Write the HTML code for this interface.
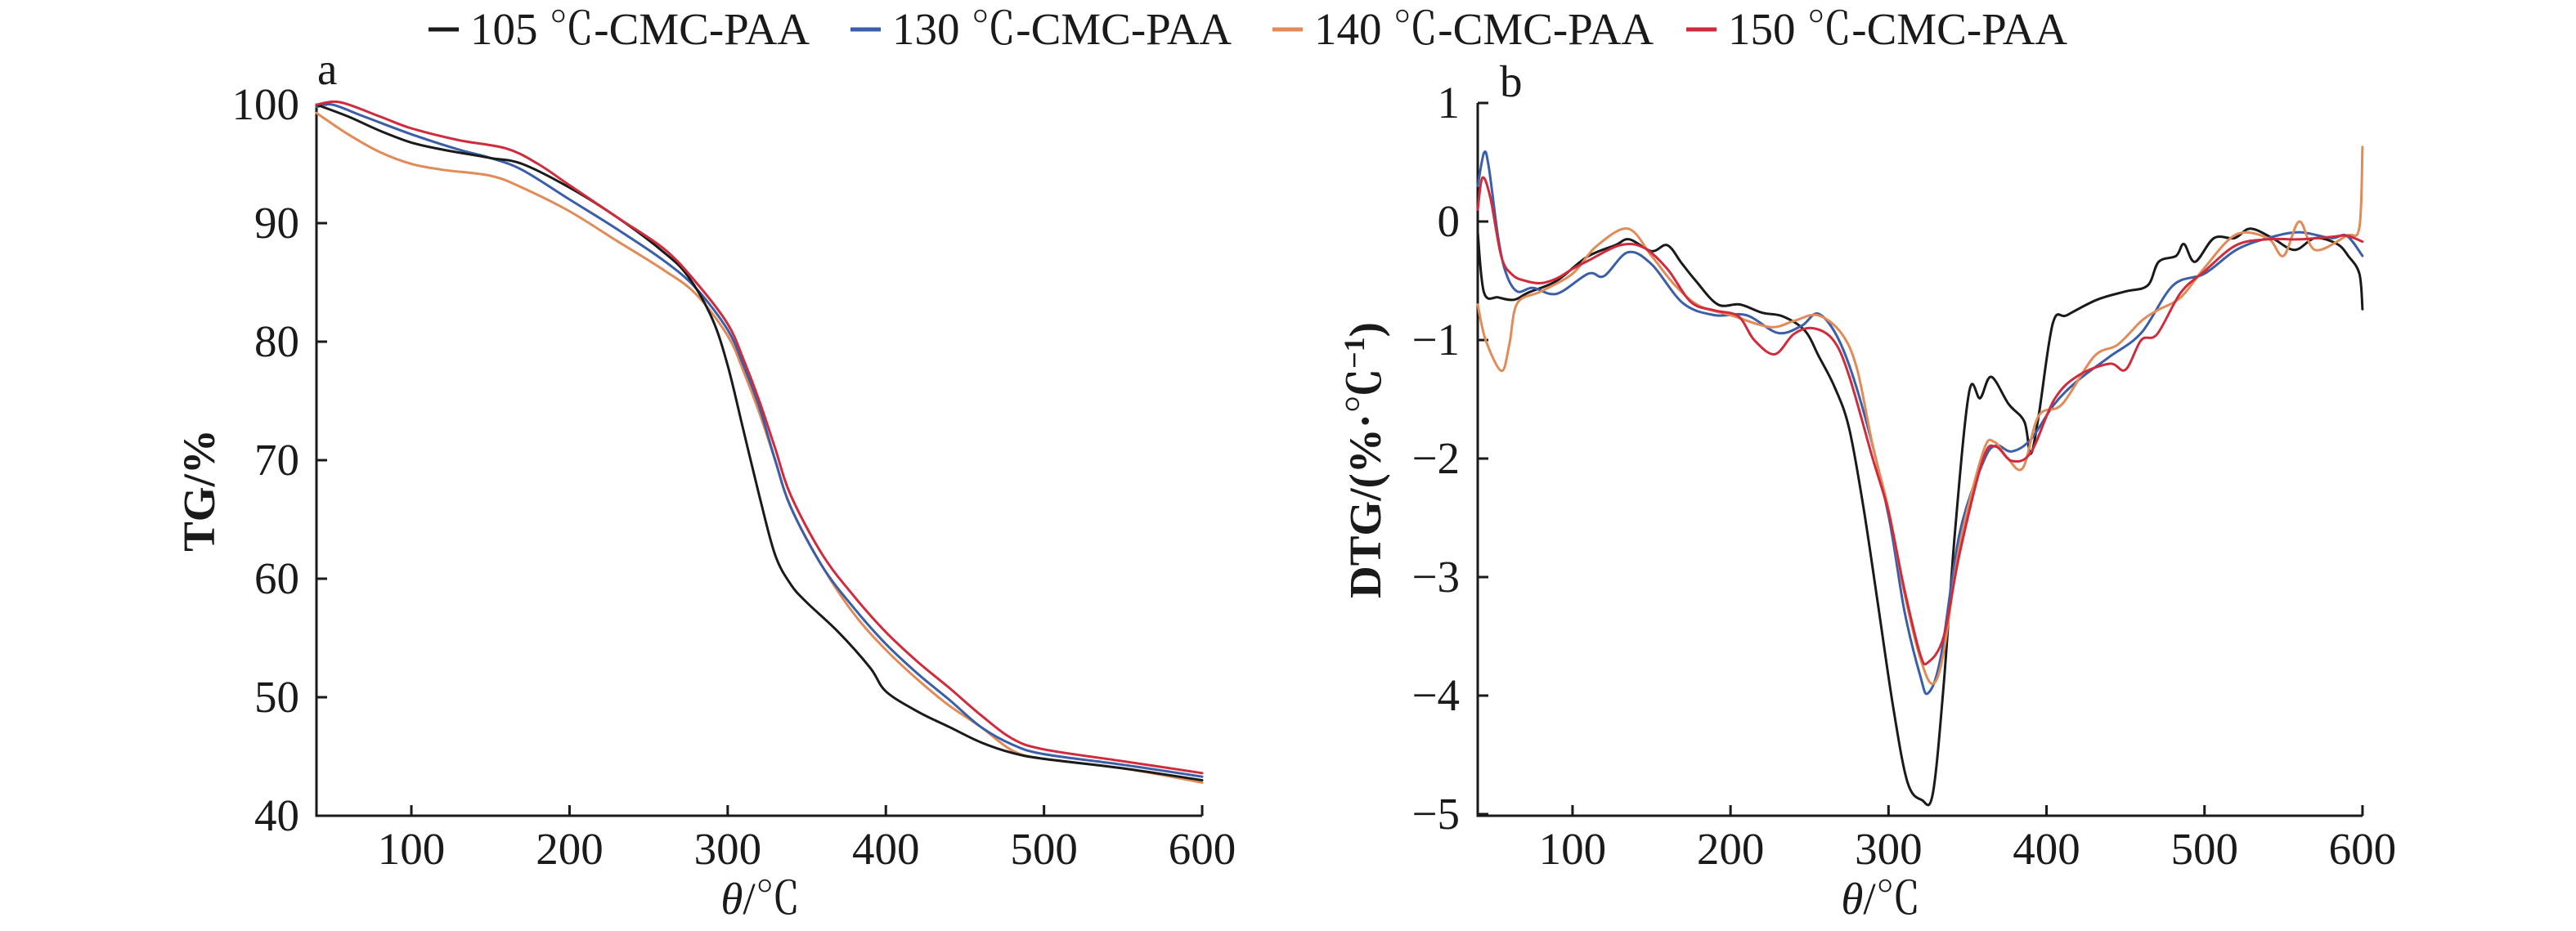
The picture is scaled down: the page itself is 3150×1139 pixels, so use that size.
<!DOCTYPE html>
<html><head><meta charset="utf-8"><style>
html,body{margin:0;padding:0;background:#fff}
svg{display:block}
text{font-family:"Liberation Serif","Noto Serif CJK SC",serif;fill:#1a1a1a}
</style></head><body>
<svg id="s" width="3150" height="1139" viewBox="0 0 3150 1139" xmlns="http://www.w3.org/2000/svg">
<g font-size="55">
<line x1="524" y1="36" x2="561" y2="36" stroke="#1a1a1a" stroke-width="5"/>
<text x="575" y="54">105 ℃-CMC-PAA</text>
<line x1="1040" y1="36" x2="1077" y2="36" stroke="#3a5ea8" stroke-width="5"/>
<text x="1091" y="54">130 ℃-CMC-PAA</text>
<line x1="1556" y1="36" x2="1593" y2="36" stroke="#e08b58" stroke-width="5"/>
<text x="1607" y="54">140 ℃-CMC-PAA</text>
<line x1="2062" y1="36" x2="2099" y2="36" stroke="#d02b3c" stroke-width="5"/>
<text x="2113" y="54">150 ℃-CMC-PAA</text>
</g>
<g id="axes" stroke="#1a1a1a" stroke-width="3" fill="none"></g>
<g id="labels" font-size="55"></g>
<g id="curves" fill="none" stroke-width="3" stroke-linejoin="round" stroke-linecap="round"></g>
<text x="388" y="103" font-size="55">a</text>
<text x="1834" y="118" font-size="55">b</text>
<text transform="translate(262,600) rotate(-90)" font-size="55" text-anchor="middle" font-weight="bold">TG/%</text>
<text transform="translate(1688,563) rotate(-90)" font-size="55" text-anchor="middle" font-weight="bold">DTG/(%·℃<tspan font-size="36" dy="-20">−1</tspan><tspan dy="20">)</tspan></text>
<text x="930" y="1118" font-size="55" text-anchor="middle"><tspan font-style="italic">θ</tspan>/℃</text>
<text x="2300" y="1118" font-size="55" text-anchor="middle"><tspan font-style="italic">θ</tspan>/℃</text>
</svg>
<script>
const NS="http://www.w3.org/2000/svg";
function el(p,t,a,txt){const e=document.createElementNS(NS,t);for(const k in a)e.setAttribute(k,a[k]);if(txt!==undefined)e.textContent=txt;document.getElementById(p).appendChild(e);}
// panel a
const LX=t=>387+(t-40)*1.934, LY=v=>128+(100-v)*14.5;
const RX=t=>1807+(t-40)*1.932, RY=v=>271-v*145;
el("axes","path",{d:`M387,128 L387,998 L1470,998`});
el("axes","path",{d:`M1807,126 L1807,998 L2889,998`});
for(let v=40;v<=100;v+=10){const y=LY(v);el("axes","line",{x1:387,y1:y,x2:400,y2:y});el("labels","text",{x:366,y:y+18,"text-anchor":"end"},String(v));}
for(let t=100;t<=600;t+=100){const x=LX(t);el("axes","line",{x1:x,y1:998,x2:x,y2:985});el("labels","text",{x:x,y:1057,"text-anchor":"middle"},String(t));}
for(let v=-5;v<=1;v++){const y=RY(v);el("axes","line",{x1:1807,y1:y,x2:1820,y2:y});el("labels","text",{x:1785,y:y+18,"text-anchor":"end"},(v<0?"−":"")+Math.abs(v));}
for(let t=100;t<=600;t+=100){const x=RX(t);el("axes","line",{x1:x,y1:998,x2:x,y2:985});el("labels","text",{x:x,y:1057,"text-anchor":"middle"},String(t));}
const C={k:"#1a1a1a",b:"#3a5ea8",o:"#e08b58",r:"#d02b3c"};
const TG={
k:[[40,100],[60,99],[80,97.8],[100,96.8],[120,96.2],[150,95.5],[170,95],[200,93],[230,90.5],[260,87.5],[275,85.5],[290,82],[300,78],[310,72.5],[320,67],[330,62],[340,59.5],[350,58],[370,55.5],[390,52.5],[400,50.5],[420,48.8],[440,47.5],[460,46.2],[480,45.3],[500,44.8],[550,44],[600,43]],
b:[[40,99.8],[50,100],[70,99],[100,97.5],[130,96.2],[150,95.5],[170,94.5],[200,92],[230,89.5],[260,86.8],[280,84.5],[300,81],[310,78],[320,74.5],[330,70],[340,66],[360,61],[380,57.5],[400,54.5],[420,52],[440,49.8],[460,47.5],[480,46],[500,45.2],[550,44.3],[600,43.3]],
o:[[40,99.3],[60,97.5],[80,96],[100,95],[120,94.5],[150,94],[170,93],[200,91],[230,88.5],[260,86],[280,84],[300,80.5],[310,77.5],[320,74],[330,70],[340,66],[360,61],[380,57],[400,54],[420,51.5],[440,49.3],[460,47.5],[480,45.5],[500,44.8],[550,44],[600,42.8]],
r:[[40,100],[55,100.2],[80,99],[100,98],[130,97],[160,96.3],[180,95],[200,93.2],[230,90.5],[260,87.8],[280,85],[300,81.5],[310,78.5],[320,75],[330,71],[340,67],[360,62],[380,58.5],[400,55.5],[420,53],[440,50.8],[460,48.5],[480,46.5],[500,45.6],[550,44.6],[600,43.6]]};
const DTG={
k:[[40,-0.09],[44,-0.6],[53,-0.64],[63,-0.66],[72,-0.6],[90,-0.5],[109,-0.3],[127,-0.2],[136,-0.15],[150,-0.25],[160,-0.2],[169,-0.35],[178,-0.5],[192,-0.7],[206,-0.7],[220,-0.77],[233,-0.8],[247,-0.92],[256,-1.14],[266,-1.4],[275,-1.74],[284,-2.4],[293,-3.2],[303,-4.1],[312,-4.73],[321,-4.88],[328,-4.83],[335,-3.9],[342,-2.63],[351,-1.44],[358,-1.49],[365,-1.31],[376,-1.54],[386,-1.69],[390,-1.96],[395,-1.64],[404,-0.86],[413,-0.79],[432,-0.66],[450,-0.59],[464,-0.54],[471,-0.34],[482,-0.29],[487,-0.19],[494,-0.34],[506,-0.14],[519,-0.14],[529,-0.06],[543,-0.14],[557,-0.24],[570,-0.14],[584,-0.19],[591,-0.29],[598,-0.44],[600,-0.74]],
b:[[40,0.3],[44,0.58],[47,0.46],[53,-0.14],[58,-0.44],[65,-0.59],[75,-0.56],[90,-0.61],[110,-0.44],[120,-0.46],[135,-0.26],[150,-0.36],[170,-0.69],[190,-0.79],[210,-0.79],[230,-0.94],[245,-0.88],[256,-0.78],[270,-1.04],[285,-1.64],[300,-2.48],[310,-3.28],[320,-3.83],[325,-3.98],[333,-3.68],[345,-2.63],[360,-2.03],[368,-1.89],[378,-1.94],[390,-1.84],[405,-1.54],[420,-1.34],[440,-1.14],[460,-0.94],[480,-0.54],[500,-0.44],[520,-0.24],[540,-0.14],[560,-0.09],[580,-0.14],[590,-0.12],[600,-0.29]],
o:[[40,-0.7],[45,-1.0],[55,-1.26],[60,-1.04],[65,-0.69],[80,-0.59],[100,-0.44],[115,-0.21],[135,-0.06],[150,-0.29],[165,-0.54],[180,-0.71],[200,-0.79],[225,-0.89],[240,-0.84],[255,-0.79],[270,-0.94],[280,-1.24],[290,-1.89],[300,-2.43],[310,-3.13],[320,-3.68],[328,-3.9],[335,-3.63],[345,-2.73],[360,-1.94],[367,-1.86],[375,-1.99],[385,-2.08],[395,-1.64],[410,-1.54],[430,-1.14],[445,-1.04],[460,-0.84],[470,-0.75],[485,-0.64],[500,-0.39],[520,-0.11],[540,-0.14],[550,-0.29],[560,0],[570,-0.24],[590,-0.12],[598,-0.05],[600,0.63]],
r:[[40,0.1],[43,0.37],[48,0.2],[55,-0.3],[62,-0.45],[70,-0.5],[80,-0.52],[90,-0.48],[100,-0.4],[110,-0.33],[130,-0.2],[145,-0.22],[160,-0.4],[175,-0.68],[190,-0.75],[205,-0.8],[215,-1.0],[228,-1.12],[240,-0.95],[252,-0.9],[265,-1.0],[275,-1.3],[290,-2.0],[300,-2.45],[310,-3.1],[320,-3.65],[325,-3.72],[335,-3.5],[345,-2.8],[360,-2.0],[368,-1.9],[378,-2.02],[390,-1.95],[405,-1.5],[420,-1.3],[440,-1.2],[450,-1.25],[460,-1.0],[470,-0.95],[485,-0.6],[500,-0.42],[520,-0.2],[540,-0.15],[560,-0.15],[580,-0.13],[590,-0.12],[600,-0.17]]};
function path(pts,fx,fy){const p=pts.map(a=>[fx(a[0]),fy(a[1])]);let d=`M${p[0][0].toFixed(1)},${p[0][1].toFixed(1)}`;
for(let i=0;i<p.length-1;i++){const p0=p[i-1]||p[i],p1=p[i],p2=p[i+1],p3=p[i+2]||p2;
const c1=[p1[0]+(p2[0]-p0[0])/6,p1[1]+(p2[1]-p0[1])/6],c2=[p2[0]-(p3[0]-p1[0])/6,p2[1]-(p3[1]-p1[1])/6];
d+=` C${c1[0].toFixed(1)},${c1[1].toFixed(1)} ${c2[0].toFixed(1)},${c2[1].toFixed(1)} ${p2[0].toFixed(1)},${p2[1].toFixed(1)}`;}return d;}
for(const k of ["o","b","k","r"]){el("curves","path",{d:path(TG[k],LX,LY),stroke:C[k]});}
for(const k of ["k","b","o","r"]){el("curves","path",{d:path(DTG[k],RX,RY),stroke:C[k]});}
</script>
</body></html>
